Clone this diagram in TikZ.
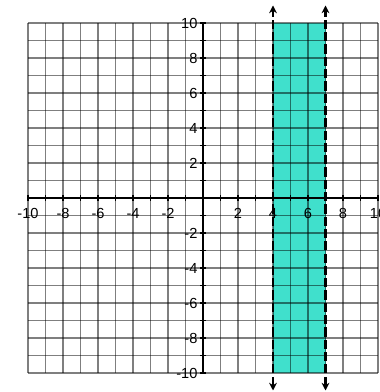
\documentclass[tikz,border=0pt]{standalone}
\usepackage{fontspec}
\setmainfont{Liberation Sans}
\usepackage{tikz}
\usetikzlibrary{arrows.meta}

\definecolor{stripteal}{RGB}{64,224,204}

\begin{document}
\begin{tikzpicture}[
    x=0.4cm, y=0.4cm,
    > = {Stealth[length=5pt, width=5pt]},
    band/.style={fill=stripteal, draw=none},
    gridline/.style={black, draw opacity=0.5, line width=0.75pt},
    axis/.style={black, line width=1.2pt},
    boundary/.style={black, line width=1.8pt, dash pattern=on 6pt off 2pt},
    lbl/.style={font=\fontsize{9.5}{10}\selectfont, inner sep=0pt}
]
\useasboundingbox (-11.6,-11.086) rectangle (10.114,11.314);

% SHADED STRIP 4 < x < 7
\fill[band] (4,-10) rectangle (7,10);

% GRID
\foreach \k in {-10,...,10} {
    \draw[gridline] (\k,-10) -- (\k,10);
    \draw[gridline] (-10,\k) -- (10,\k);
}

% AXES
\draw[axis] (-10,0) -- (10,0);
\draw[axis] (0,-10) -- (0,10);
\foreach \k in {-10,...,10} {
    \draw[black, line width=0.8pt] (\k,-0.15) -- (\k,0.15);
    \draw[black, line width=0.8pt] (-0.15,\k) -- (0.15,\k);
}

% LABELS
\foreach \k in {-10,-8,-6,-4,-2,2,4,6,8,10} {
    \node[lbl] (xl\k) at (\k,-0.86) {\k};
    \node[lbl, anchor=east] (yl\k) at (-0.3,\k) {\k};
}

% BOUNDARY LINES x = 4 AND x = 7
\coordinate (a4top) at (4,11);
\coordinate (a4bot) at (4,-11);
\coordinate (a7top) at (7,11);
\coordinate (a7bot) at (7,-11);
\draw[boundary, <->] (a4bot) -- (a4top);
\draw[boundary, <->] (a7bot) -- (a7top);

\end{tikzpicture}
\end{document}
